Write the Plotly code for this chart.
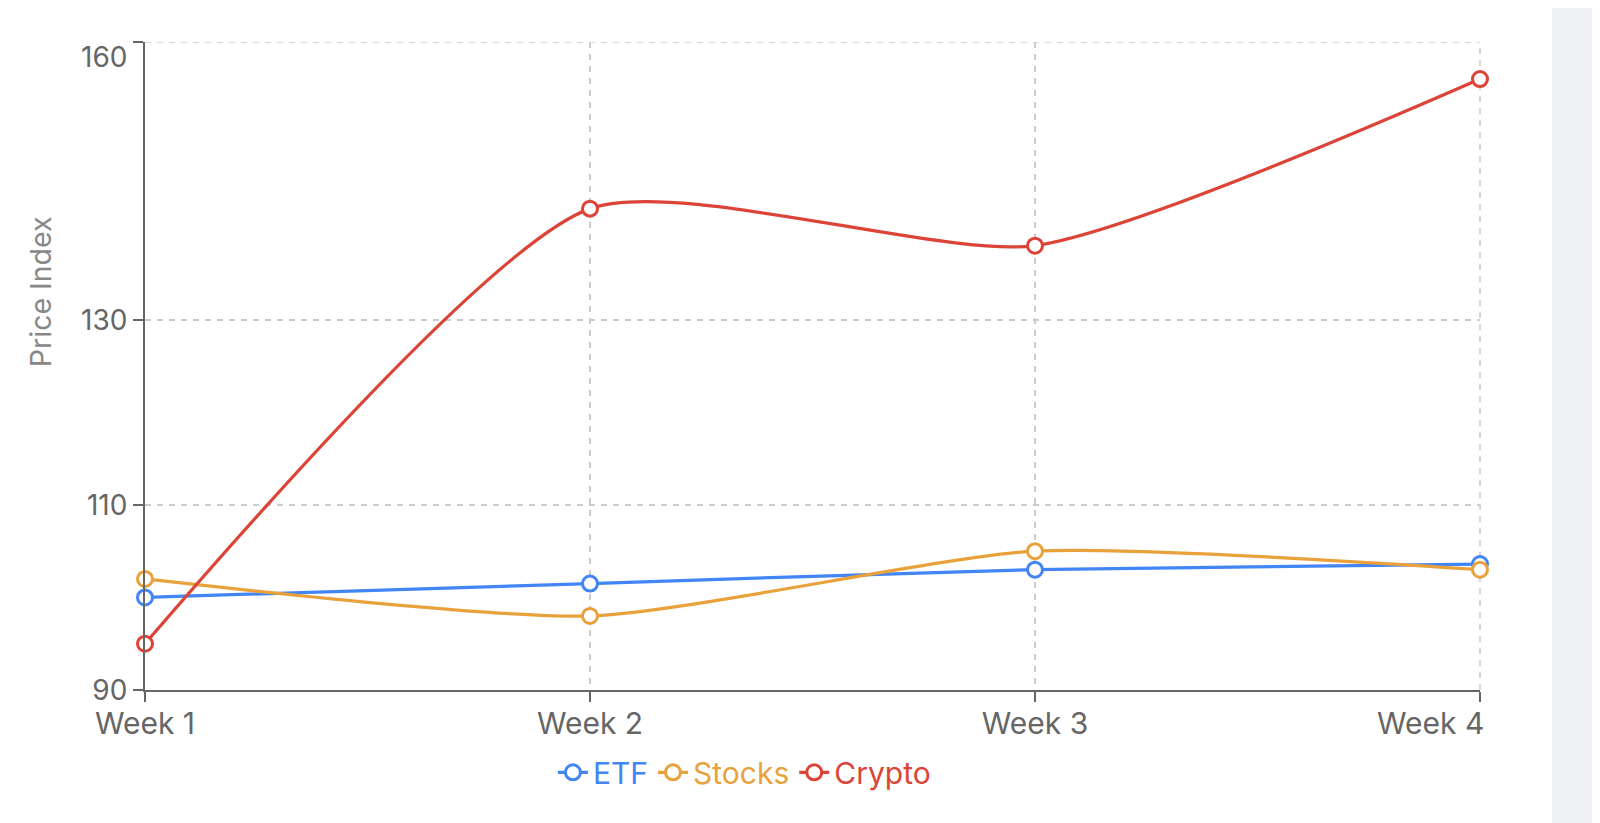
""" Weekly price index of three asset classes """
import plotly.graph_objects as go

weeks = ['Week 1', 'Week 2', 'Week 3', 'Week 4']
etf = [100, 101.5, 103, 103.6]
stocks = [102, 98, 105, 103]
crypto = [95, 142, 138, 156]

series_names = ['ETF', 'Stocks', 'Crypto']
series_colors = ['#4285F4', '#E9A23B', '#DB4437']
y_ticks = [90, 110, 130, 160]

FONT = 'Inter'
TICK_GRAY = '#666666'
GRID = {'color': '#CCCCCC', 'width': 1.5, 'dash': '6px,6px'}

fig = go.Figure()

for name, values, color in zip(series_names, [etf, stocks, crypto], series_colors):
    fig.add_trace(go.Scatter(
        x=weeks, y=values,
        mode='lines+markers',
        name=f"<span style='color:{color}'>{name}</span>",
        line={'color': color, 'width': 3.2, 'shape': 'spline', 'smoothing': 0.62},
        marker={'size': 15, 'color': 'white', 'line': {'color': color, 'width': 3}},
        cliponaxis=False))

# the top tick label sits a bit lower, last week label is right aligned
y_text = [str(v) for v in y_ticks[:-1]] + ['']
x_text = weeks[:-1] + ['']

fig.add_annotation(x=0, xref='paper', y=y_ticks[-1], yref='y',
                   text=str(y_ticks[-1]), showarrow=False,
                   xanchor='right', xshift=-16, yshift=-15,
                   font={'family': FONT, 'size': 28, 'color': TICK_GRAY})
fig.add_annotation(x=weeks[-1], xref='x', y=0, yref='paper',
                   text=weeks[-1], showarrow=False,
                   xanchor='right', yanchor='top', xshift=6, yshift=-13,
                   font={'family': FONT, 'size': 30, 'color': TICK_GRAY})
fig.add_annotation(x=0, xref='paper', y=0.614, yref='paper',
                   text='Price Index', showarrow=False, textangle=-90,
                   xanchor='center', yanchor='middle', xshift=-105,
                   font={'family': FONT, 'size': 28.5, 'color': '#888888'})

# grid lines on the plot edges (plotly hides those)
fig.add_shape(type='line', xref='paper', yref='y', x0=0, x1=1,
              y0=y_ticks[-1], y1=y_ticks[-1], line=GRID, layer='below')
fig.add_shape(type='line', xref='paper', yref='paper', x0=1, x1=1,
              y0=0, y1=1, line=GRID, layer='below')

# grey side strip at the right of the page
fig.add_shape(type='rect', xref='paper', yref='paper',
              x0=1.054, x1=1.12, y0=-0.25, y1=1.1,
              fillcolor='#EEF0F4', line={'width': 0}, layer='below')

axis_common = {
    'showline': True, 'linecolor': TICK_GRAY, 'linewidth': 2,
    'ticks': 'outside', 'ticklen': 10, 'tickwidth': 2, 'tickcolor': TICK_GRAY,
    'showgrid': True, 'gridcolor': GRID['color'], 'gridwidth': GRID['width'],
    'griddash': GRID['dash'], 'zeroline': False,
}

# page body adds 8px on the left and top, margins account for it
fig.update_layout(
    width=1600, height=823,
    margin={'l': 137, 'r': 128, 't': 34, 'b': 141},
    paper_bgcolor='white', plot_bgcolor='white',
    font={'family': FONT},
    xaxis={**axis_common, 'type': 'category', 'range': [0, 3],
           'tickvals': weeks, 'ticktext': x_text, 'ticklabelstandoff': -4,
           'tickfont': {'family': FONT, 'size': 30, 'color': TICK_GRAY}},
    yaxis={**axis_common, 'range': [90, 160],
           'tickvals': y_ticks, 'ticktext': y_text,
           'tickfont': {'family': FONT, 'size': 28, 'color': TICK_GRAY}},
    legend={'orientation': 'h', 'x': 0.449, 'xanchor': 'center',
            'y': -0.127, 'yanchor': 'middle',
            'font': {'family': FONT, 'size': 30}, 'itemwidth': 30},
    showlegend=True,
)

fig.write_html("out.html")
